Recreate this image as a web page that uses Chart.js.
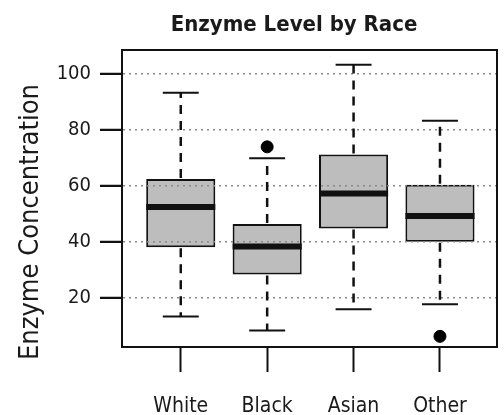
<!DOCTYPE html>
<html>
<head>
<meta charset="utf-8">
<script src="https://cdn.jsdelivr.net/npm/chart.js@4"></script>
<style>
  html, body { margin: 0; padding: 0; background: #fff; }
  #wrap { width: 504px; height: 415px; }
</style>
</head>
<body>
<div id="wrap"><canvas id="myChart" width="504" height="415"></canvas></div>
<script>
// box plot values
const categories = ['White', 'Black', 'Asian', 'Other'];
const whiskerLow = [13.4, 8.4, 16.0, 17.8];
const q1 = [38.1, 28.4, 44.8, 40.1];
const median = [52.5, 38.4, 57.3, 49.3];
const q3 = [62.5, 46.4, 71.3, 60.5];
const whiskerHigh = [93.3, 69.9, 103.3, 83.3];
const outlierGroup = ['Black', 'Other'];
const outlierValues = [74, 6.3];
const yTicks = [20, 40, 60, 80, 100];

const chartTitle = 'Enzyme Level by Race';
const yTitle = 'Enzyme Concentration';

const font = "'Liberation Sans Narrow', 'DejaVu Sans Condensed', 'Arial Narrow', sans-serif";

// whiskers, caps, medians, plot frame and the titles
const boxExtras = {
  id: 'boxExtras',
  afterDraw(chart) {
    const ctx = chart.ctx;
    const x = chart.scales.x, y = chart.scales.y;
    const bars = chart.getDatasetMeta(0).data;
    const a = chart.chartArea;
    ctx.save();
    categories.forEach((c, i) => {
      const cx = x.getPixelForValue(i + 1);
      const w = bars[i].width;
      // dashed whiskers
      ctx.strokeStyle = '#111';
      ctx.lineWidth = 2.5;
      ctx.setLineDash([9, 7]);
      ctx.beginPath();
      ctx.moveTo(cx, y.getPixelForValue(q3[i]) - 1);
      ctx.lineTo(cx, y.getPixelForValue(whiskerHigh[i]));
      ctx.moveTo(cx, y.getPixelForValue(q1[i]) + 1);
      ctx.lineTo(cx, y.getPixelForValue(whiskerLow[i]));
      ctx.stroke();
      // caps
      ctx.setLineDash([]);
      ctx.lineWidth = 2;
      ctx.beginPath();
      [whiskerHigh[i], whiskerLow[i]].forEach(v => {
        const py = y.getPixelForValue(v);
        ctx.moveTo(cx - w * 0.26, py);
        ctx.lineTo(cx + w * 0.26, py);
      });
      ctx.stroke();
      // median
      ctx.lineWidth = 6;
      ctx.beginPath();
      const my = y.getPixelForValue(median[i]);
      ctx.moveTo(cx - w / 2, my);
      ctx.lineTo(cx + w / 2, my);
      ctx.stroke();
    });
    // y tick marks outside the frame
    ctx.lineWidth = 2;
    ctx.beginPath();
    yTicks.forEach(v => {
      const py = y.getPixelForValue(v);
      ctx.moveTo(a.left, py);
      ctx.lineTo(a.left - 22, py);
    });
    ctx.stroke();
    ctx.strokeRect(a.left, a.top, a.right - a.left, a.bottom - a.top);

    // titles
    ctx.fillStyle = '#1a1a1a';
    ctx.textAlign = 'center';
    ctx.textBaseline = 'middle';
    ctx.font = 'bold 22px ' + font;
    ctx.fillText(chartTitle, 294, 25);
    ctx.translate(31, 222);
    ctx.rotate(-Math.PI / 2);
    ctx.font = '27px ' + font;
    ctx.fillText(yTitle, 0, 0);
    ctx.restore();
  }
};

const ctx = document.getElementById('myChart').getContext('2d');
new Chart(ctx, {
  type: 'bar',
  data: {
    datasets: [{
      label: 'Box',
      data: categories.map((c, i) => ({ x: i + 1, y: [q1[i], q3[i]] })),
      backgroundColor: '#bdbdbd',
      borderColor: '#111',
      borderWidth: 2,
      borderSkipped: false,
      barPercentage: 0.8,
      categoryPercentage: 1.0
    }, {
      type: 'scatter',
      label: 'Outliers',
      data: outlierGroup.map((g, i) => ({ x: categories.indexOf(g) + 1, y: outlierValues[i] })),
      backgroundColor: '#000',
      borderColor: '#000',
      pointRadius: 6,
      pointHoverRadius: 6
    }]
  },
  options: {
    responsive: false,
    animation: false,
    layout: { padding: { left: 0, right: 2, top: 50, bottom: 0 } },
    plugins: {
      legend: { display: false },
      tooltip: { enabled: false },
      title: { display: false }
    },
    scales: {
      x: {
        type: 'linear',
        min: 0.32,
        max: 4.66,
        offset: false,
        afterBuildTicks: s => { s.ticks = categories.map((c, i) => ({ value: i + 1 })); },
        afterFit: s => { s.height = 68; },
        grid: {
          offset: false,
          drawOnChartArea: false,
          drawTicks: true,
          tickLength: 25,
          tickColor: '#111',
          tickWidth: 2,
          tickBorderDash: []
        },
        border: { display: true, color: '#111', width: 2 },
        ticks: {
          callback: v => categories[v - 1],
          color: '#1a1a1a',
          padding: 22,
          maxRotation: 0,
          font: { family: font, size: 21 }
        }
      },
      y: {
        min: 2.5,
        max: 108.6,
        afterBuildTicks: s => { s.ticks = yTicks.map(v => ({ value: v })); },
        afterFit: s => { s.width = 122; },
        grid: {
          z: 1,
          color: '#8a8a8a',
          lineWidth: 1.5,
          drawTicks: true,
          tickLength: 22,
          tickColor: '#111',
          tickWidth: 2,
          tickBorderDash: []
        },
        border: { display: true, z: 1, color: '#111', width: 2, dash: [2, 4] },
        ticks: {
          color: '#1a1a1a',
          padding: 9,
          font: { family: font, size: 20 }
        }
      }
    }
  },
  plugins: [boxExtras]
});
</script>
</body>
</html>
